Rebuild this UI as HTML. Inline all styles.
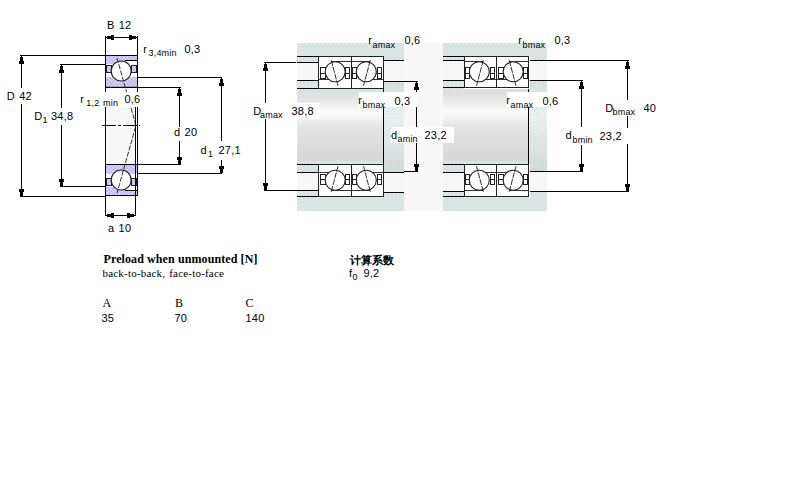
<!DOCTYPE html><html><head><meta charset="utf-8"><style>html,body{margin:0;padding:0;background:#fff;width:800px;height:500px;overflow:hidden}svg{display:block}text{fill:#000;letter-spacing:0.2px;word-spacing:1px}</style></head><body>
<svg width="800" height="500" viewBox="0 0 800 500" shape-rendering="crispEdges">
<defs>
<pattern id="gp" width="4" height="4" patternUnits="userSpaceOnUse">
<rect width="4" height="4" fill="#e4e4e4"/>
<rect x="1" y="0" width="1" height="1" fill="#d2d2d2"/>
<rect x="3" y="2" width="1" height="1" fill="#d2d2d2"/>
<rect x="0" y="1" width="1" height="1" fill="#f6d0d0"/>
<rect x="2" y="3" width="1" height="1" fill="#f6d0d0"/>
<rect x="0" y="2" width="1" height="1" fill="#c8f2f2"/>
<rect x="2" y="0" width="1" height="1" fill="#ececec"/>
</pattern>
<pattern id="bp" width="4" height="4" patternUnits="userSpaceOnUse">
<rect width="4" height="4" fill="#ccc6f6"/>
<rect x="1" y="1" width="1" height="1" fill="#9ab8f2"/>
<rect x="3" y="3" width="1" height="1" fill="#9ab8f2"/>
<rect x="3" y="1" width="1" height="1" fill="#c4f2f2"/>
<rect x="1" y="3" width="1" height="1" fill="#c4f2f2"/>
</pattern>
<pattern id="dp" width="4" height="4" patternUnits="userSpaceOnUse">
<rect x="1" y="0" width="1" height="1" fill="#d2d2d2" fill-opacity="0.6"/>
<rect x="3" y="2" width="1" height="1" fill="#d2d2d2" fill-opacity="0.6"/>
<rect x="0" y="1" width="1" height="1" fill="#f6d0d0" fill-opacity="0.8"/>
<rect x="2" y="3" width="1" height="1" fill="#f6d0d0" fill-opacity="0.8"/>
<rect x="0" y="2" width="1" height="1" fill="#c8f2f2" fill-opacity="0.8"/>
</pattern>
<linearGradient id="sg" x1="0" y1="0" x2="0" y2="1">
<stop offset="0" stop-color="#dcdcdc"/>
<stop offset="0.12" stop-color="#e2e2e2"/>
<stop offset="0.32" stop-color="#fafafa"/>
<stop offset="0.55" stop-color="#e2e2e2"/>
<stop offset="1" stop-color="#d6d6d6"/>
</linearGradient>
<linearGradient id="sg2" x1="0" y1="0" x2="0" y2="1">
<stop offset="0" stop-color="#dcdcdc"/>
<stop offset="0.4" stop-color="#f4f4f4"/>
<stop offset="1" stop-color="#d6d6d6"/>
</linearGradient>
</defs>
<rect x="106" y="107" width="29" height="57" fill="#f8f8f8"/>
<rect x="106" y="55" width="31" height="9" fill="url(#bp)"/>
<rect x="106" y="77" width="31" height="9" fill="url(#bp)"/>
<rect x="106" y="64" width="31" height="13" fill="#fff"/>
<rect x="126" y="60" width="11" height="4" fill="#fff"/>
<rect x="125" y="60" width="12" height="1" fill="#000"/>
<rect x="106" y="86" width="31" height="1" fill="#9aa0b4"/>
<rect x="107" y="66" width="4" height="6" fill="url(#bp)"/>
<rect x="106.5" y="65.5" width="5" height="7" fill="none" stroke="#222" stroke-width="1"/>
<rect x="132" y="66" width="4" height="6" fill="url(#bp)"/>
<rect x="131.5" y="65.5" width="5" height="7" fill="none" stroke="#222" stroke-width="1"/>
<circle cx="121.2" cy="71" r="10" fill="#fff" stroke="#222" stroke-width="1.2" shape-rendering="auto"/>
<rect x="105" y="55" width="33" height="1" fill="#000"/>
<rect x="105" y="87" width="33" height="1" fill="#000"/>
<rect x="106" y="187" width="31" height="9" fill="url(#bp)"/>
<rect x="106" y="165" width="31" height="9" fill="url(#bp)"/>
<rect x="106" y="174" width="31" height="13" fill="#fff"/>
<rect x="126" y="187" width="11" height="4" fill="#fff"/>
<rect x="125" y="190" width="12" height="1" fill="#000"/>
<rect x="106" y="164" width="31" height="1" fill="#9aa0b4"/>
<rect x="107" y="179" width="4" height="6" fill="url(#bp)"/>
<rect x="106.5" y="178.5" width="5" height="7" fill="none" stroke="#222" stroke-width="1"/>
<rect x="132" y="179" width="4" height="6" fill="url(#bp)"/>
<rect x="131.5" y="178.5" width="5" height="7" fill="none" stroke="#222" stroke-width="1"/>
<circle cx="121.2" cy="180" r="10" fill="#fff" stroke="#222" stroke-width="1.2" shape-rendering="auto"/>
<rect x="105" y="195" width="33" height="1" fill="#000"/>
<rect x="105" y="164" width="33" height="1" fill="#000"/>
<polyline points="117,58 136,125.5 117,193" fill="none" stroke="#333" stroke-width="1" stroke-dasharray="5,1.5" shape-rendering="auto"/>
<rect x="78" y="92" width="64" height="15" fill="#fff"/>
<rect x="105" y="36" width="1" height="56" fill="#000"/>
<rect x="105" y="107" width="1" height="109" fill="#000"/>
<rect x="137" y="36" width="1" height="56" fill="#000"/>
<rect x="137" y="107" width="1" height="89" fill="#000"/>
<rect x="135" y="107" width="1" height="109" fill="#000"/>
<line x1="102" y1="125.5" x2="140" y2="125.5" stroke="#000" stroke-width="1" stroke-dasharray="14,2,3,2"/>
<rect x="105" y="37" width="33" height="1" fill="#000"/>
<rect x="107" y="36" width="4" height="3" fill="#000"/>
<rect x="111" y="35" width="3" height="5" fill="#000"/>
<rect x="132" y="36" width="4" height="3" fill="#000"/>
<rect x="129" y="35" width="3" height="5" fill="#000"/>
<rect x="105" y="215" width="31" height="1" fill="#000"/>
<rect x="107" y="214" width="4" height="3" fill="#000"/>
<rect x="111" y="213" width="3" height="5" fill="#000"/>
<rect x="130" y="214" width="4" height="3" fill="#000"/>
<rect x="127" y="213" width="3" height="5" fill="#000"/>
<rect x="20" y="55" width="85" height="1" fill="#000"/>
<rect x="20" y="196" width="85" height="1" fill="#000"/>
<rect x="21" y="55" width="1" height="33" fill="#000"/>
<rect x="21" y="104" width="1" height="93" fill="#000"/>
<rect x="20" y="57" width="3" height="4" fill="#000"/>
<rect x="19" y="61" width="5" height="3" fill="#000"/>
<rect x="20" y="192" width="3" height="4" fill="#000"/>
<rect x="19" y="189" width="5" height="3" fill="#000"/>
<rect x="60" y="64" width="45" height="1" fill="#000"/>
<rect x="60" y="186" width="45" height="1" fill="#000"/>
<rect x="61" y="64" width="1" height="44" fill="#000"/>
<rect x="61" y="125" width="1" height="62" fill="#000"/>
<rect x="60" y="66" width="3" height="4" fill="#000"/>
<rect x="59" y="70" width="5" height="3" fill="#000"/>
<rect x="60" y="182" width="3" height="4" fill="#000"/>
<rect x="59" y="179" width="5" height="3" fill="#000"/>
<rect x="138" y="77" width="84" height="1" fill="#000"/>
<rect x="138" y="173" width="84" height="1" fill="#000"/>
<rect x="221" y="77" width="1" height="64" fill="#000"/>
<rect x="221" y="160" width="1" height="14" fill="#000"/>
<rect x="220" y="79" width="3" height="4" fill="#000"/>
<rect x="219" y="83" width="5" height="3" fill="#000"/>
<rect x="220" y="169" width="3" height="4" fill="#000"/>
<rect x="219" y="166" width="5" height="3" fill="#000"/>
<rect x="138" y="87" width="43" height="1" fill="#000"/>
<rect x="138" y="164" width="43" height="1" fill="#000"/>
<rect x="179" y="87" width="1" height="40" fill="#000"/>
<rect x="179" y="141" width="1" height="24" fill="#000"/>
<rect x="178" y="89" width="3" height="4" fill="#000"/>
<rect x="177" y="93" width="5" height="3" fill="#000"/>
<rect x="178" y="160" width="3" height="4" fill="#000"/>
<rect x="177" y="157" width="5" height="3" fill="#000"/>
<text x="107" y="29" font-size="11" font-weight="normal" font-family="Liberation Sans" text-anchor="start">B 12</text>
<text x="143.3" y="52.6" font-size="11" font-weight="normal" font-family="Liberation Sans" text-anchor="start">r</text>
<text x="148.5" y="55.5" font-size="9" font-weight="normal" font-family="Liberation Sans" text-anchor="start">3,4min</text>
<text x="184.5" y="53" font-size="11" font-weight="normal" font-family="Liberation Sans" text-anchor="start">0,3</text>
<text x="6.8" y="100" font-size="11" font-weight="normal" font-family="Liberation Sans" text-anchor="start">D 42</text>
<text x="34.2" y="120" font-size="11" font-weight="normal" font-family="Liberation Sans" text-anchor="start">D</text>
<text x="42.5" y="123" font-size="9" font-weight="normal" font-family="Liberation Sans" text-anchor="start">1</text>
<text x="51" y="120" font-size="11" font-weight="normal" font-family="Liberation Sans" text-anchor="start">34,8</text>
<text x="80.3" y="102.7" font-size="11" font-weight="normal" font-family="Liberation Sans" text-anchor="start">r</text>
<text x="86.3" y="105.7" font-size="9" font-weight="normal" font-family="Liberation Sans" text-anchor="start">1,2 min</text>
<text x="124.4" y="102.7" font-size="11" font-weight="normal" font-family="Liberation Sans" text-anchor="start">0,6</text>
<text x="174" y="136" font-size="11" font-weight="normal" font-family="Liberation Sans" text-anchor="start">d 20</text>
<text x="200.5" y="154" font-size="11" font-weight="normal" font-family="Liberation Sans" text-anchor="start">d</text>
<text x="208" y="157" font-size="9" font-weight="normal" font-family="Liberation Sans" text-anchor="start">1</text>
<text x="218.5" y="154" font-size="11" font-weight="normal" font-family="Liberation Sans" text-anchor="start">27,1</text>
<text x="108" y="231.8" font-size="11" font-weight="normal" font-family="Liberation Sans" text-anchor="start">a 10</text>
<rect x="297" y="43" width="107" height="13" fill="url(#gp)"/>
<rect x="383" y="56" width="21" height="4" fill="url(#gp)"/>
<rect x="297" y="56" width="21" height="6" fill="url(#gp)"/>
<rect x="297" y="62" width="21" height="18" fill="#f7f7f7"/>
<rect x="297" y="80" width="21" height="8" fill="url(#gp)"/>
<rect x="383" y="60" width="21" height="21" fill="#f7f7f7"/>
<rect x="297" y="196" width="107" height="15" fill="url(#gp)"/>
<rect x="383" y="192" width="21" height="4" fill="url(#gp)"/>
<rect x="297" y="190" width="21" height="6" fill="url(#gp)"/>
<rect x="297" y="172" width="21" height="18" fill="#f7f7f7"/>
<rect x="297" y="164" width="21" height="8" fill="url(#gp)"/>
<rect x="383" y="172" width="21" height="20" fill="#f7f7f7"/>
<rect x="297" y="88" width="86" height="76" fill="url(#sg)"/>
<rect x="297" y="88" width="86" height="3" fill="url(#gp)"/>
<rect x="297" y="161" width="86" height="3" fill="url(#gp)"/>
<rect x="383" y="81" width="21" height="91" fill="url(#sg2)"/>
<rect x="383" y="81" width="21" height="91" fill="url(#dp)"/>
<rect x="443" y="43" width="104" height="13" fill="url(#gp)"/>
<rect x="528" y="56" width="19" height="4" fill="url(#gp)"/>
<rect x="443" y="56" width="21" height="4" fill="url(#gp)"/>
<rect x="443" y="60" width="21" height="20" fill="#f7f7f7"/>
<rect x="443" y="80" width="21" height="7" fill="url(#gp)"/>
<rect x="528" y="60" width="19" height="20" fill="#f7f7f7"/>
<rect x="443" y="196" width="104" height="15" fill="url(#gp)"/>
<rect x="528" y="191" width="19" height="5" fill="url(#gp)"/>
<rect x="443" y="191" width="21" height="5" fill="url(#gp)"/>
<rect x="443" y="172" width="21" height="19" fill="#f7f7f7"/>
<rect x="443" y="164" width="21" height="8" fill="url(#gp)"/>
<rect x="528" y="171" width="19" height="20" fill="#f7f7f7"/>
<rect x="443" y="87" width="85" height="77" fill="url(#sg)"/>
<rect x="443" y="87" width="85" height="3" fill="url(#gp)"/>
<rect x="443" y="161" width="85" height="3" fill="url(#gp)"/>
<rect x="528" y="80" width="19" height="91" fill="url(#sg2)"/>
<rect x="528" y="80" width="19" height="91" fill="url(#dp)"/>
<rect x="404" y="43" width="39" height="168" fill="#f8f8f8"/>
<rect x="297" y="56" width="21" height="1" fill="#000"/>
<rect x="297" y="62" width="21" height="1" fill="#000"/>
<rect x="297" y="80" width="21" height="1" fill="#000"/>
<rect x="297" y="88" width="21" height="1" fill="#000"/>
<rect x="383" y="60" width="21" height="1" fill="#000"/>
<rect x="383" y="81" width="21" height="1" fill="#000"/>
<rect x="297" y="164" width="21" height="1" fill="#000"/>
<rect x="297" y="172" width="21" height="1" fill="#000"/>
<rect x="297" y="190" width="21" height="1" fill="#000"/>
<rect x="297" y="196" width="21" height="1" fill="#000"/>
<rect x="383" y="172" width="21" height="1" fill="#000"/>
<rect x="383" y="192" width="21" height="1" fill="#000"/>
<rect x="383" y="88" width="1" height="77" fill="#000"/>
<rect x="443" y="56" width="21" height="1" fill="#000"/>
<rect x="443" y="60" width="21" height="1" fill="#000"/>
<rect x="443" y="80" width="21" height="1" fill="#000"/>
<rect x="443" y="87" width="21" height="1" fill="#000"/>
<rect x="528" y="60" width="19" height="1" fill="#000"/>
<rect x="528" y="80" width="19" height="1" fill="#000"/>
<rect x="443" y="164" width="21" height="1" fill="#000"/>
<rect x="443" y="172" width="21" height="1" fill="#000"/>
<rect x="443" y="191" width="21" height="1" fill="#000"/>
<rect x="443" y="196" width="21" height="1" fill="#000"/>
<rect x="528" y="171" width="19" height="1" fill="#000"/>
<rect x="528" y="191" width="19" height="1" fill="#000"/>
<rect x="528" y="87" width="1" height="78" fill="#000"/>
<rect x="318.5" y="56" width="33" height="33" fill="#fff"/>
<rect x="331.5" y="61" width="19.0" height="1" fill="#333"/>
<rect x="318.5" y="79" width="11.0" height="1" fill="#333"/>
<rect x="320.5" y="67.9" width="4.5" height="10.5" fill="#fff" stroke="#222" stroke-width="1"/>
<rect x="320" y="73" width="5" height="1" fill="#222"/>
<rect x="345.3" y="67.9" width="4.5" height="10.5" fill="#fff" stroke="#222" stroke-width="1"/>
<rect x="345" y="73" width="5" height="1" fill="#222"/>
<circle cx="335.2" cy="71.8" r="10" fill="#fff" stroke="#222" stroke-width="1.1" shape-rendering="auto"/>
<line x1="331.2" y1="60.2" x2="338.0" y2="85.8" stroke="#1a1a1a" stroke-width="0.9" stroke-dasharray="6,1" shape-rendering="auto"/>
<rect x="318.5" y="164" width="33" height="33" fill="#fff"/>
<rect x="331.5" y="190" width="19.0" height="1" fill="#333"/>
<rect x="318.5" y="172" width="11.0" height="1" fill="#333"/>
<rect x="320.5" y="174.1" width="4.5" height="10.5" fill="#fff" stroke="#222" stroke-width="1"/>
<rect x="320" y="179" width="5" height="1" fill="#222"/>
<rect x="345.3" y="174.1" width="4.5" height="10.5" fill="#fff" stroke="#222" stroke-width="1"/>
<rect x="345" y="179" width="5" height="1" fill="#222"/>
<circle cx="335.2" cy="180.2" r="10" fill="#fff" stroke="#222" stroke-width="1.1" shape-rendering="auto"/>
<line x1="331.2" y1="191.8" x2="338.0" y2="166.2" stroke="#1a1a1a" stroke-width="0.9" stroke-dasharray="6,1" shape-rendering="auto"/>
<rect x="351" y="56" width="33" height="33" fill="#fff"/>
<rect x="351" y="61" width="19" height="1" fill="#333"/>
<rect x="372" y="79" width="11" height="1" fill="#333"/>
<rect x="377.0" y="67.9" width="4.5" height="10.5" fill="#fff" stroke="#222" stroke-width="1"/>
<rect x="376" y="73" width="6" height="1" fill="#222"/>
<rect x="352.2" y="67.9" width="4.5" height="10.5" fill="#fff" stroke="#222" stroke-width="1"/>
<rect x="352" y="73" width="5" height="1" fill="#222"/>
<circle cx="366.3" cy="71.8" r="10" fill="#fff" stroke="#222" stroke-width="1.1" shape-rendering="auto"/>
<line x1="370.3" y1="60.2" x2="363.5" y2="85.8" stroke="#1a1a1a" stroke-width="0.9" stroke-dasharray="6,1" shape-rendering="auto"/>
<rect x="351" y="164" width="33" height="33" fill="#fff"/>
<rect x="351" y="190" width="19" height="1" fill="#333"/>
<rect x="372" y="172" width="11" height="1" fill="#333"/>
<rect x="377.0" y="174.1" width="4.5" height="10.5" fill="#fff" stroke="#222" stroke-width="1"/>
<rect x="376" y="179" width="6" height="1" fill="#222"/>
<rect x="352.2" y="174.1" width="4.5" height="10.5" fill="#fff" stroke="#222" stroke-width="1"/>
<rect x="352" y="179" width="5" height="1" fill="#222"/>
<circle cx="366.3" cy="180.2" r="10" fill="#fff" stroke="#222" stroke-width="1.1" shape-rendering="auto"/>
<line x1="370.3" y1="191.8" x2="363.5" y2="166.2" stroke="#1a1a1a" stroke-width="0.9" stroke-dasharray="6,1" shape-rendering="auto"/>
<rect x="464" y="56" width="33" height="33" fill="#fff"/>
<rect x="464" y="61" width="19" height="1" fill="#333"/>
<rect x="485" y="79" width="11" height="1" fill="#333"/>
<rect x="490.0" y="67.9" width="4.5" height="10.5" fill="#fff" stroke="#222" stroke-width="1"/>
<rect x="490" y="73" width="4" height="1" fill="#222"/>
<rect x="465.2" y="67.9" width="4.5" height="10.5" fill="#fff" stroke="#222" stroke-width="1"/>
<rect x="465" y="73" width="5" height="1" fill="#222"/>
<circle cx="479.3" cy="71.8" r="10" fill="#fff" stroke="#222" stroke-width="1.1" shape-rendering="auto"/>
<line x1="483.3" y1="60.2" x2="476.5" y2="85.8" stroke="#1a1a1a" stroke-width="0.9" stroke-dasharray="6,1" shape-rendering="auto"/>
<rect x="464" y="164" width="33" height="33" fill="#fff"/>
<rect x="464" y="190" width="19" height="1" fill="#333"/>
<rect x="485" y="172" width="11" height="1" fill="#333"/>
<rect x="490.0" y="174.1" width="4.5" height="10.5" fill="#fff" stroke="#222" stroke-width="1"/>
<rect x="490" y="179" width="4" height="1" fill="#222"/>
<rect x="465.2" y="174.1" width="4.5" height="10.5" fill="#fff" stroke="#222" stroke-width="1"/>
<rect x="465" y="179" width="5" height="1" fill="#222"/>
<circle cx="479.3" cy="180.2" r="10" fill="#fff" stroke="#222" stroke-width="1.1" shape-rendering="auto"/>
<line x1="483.3" y1="191.8" x2="476.5" y2="166.2" stroke="#1a1a1a" stroke-width="0.9" stroke-dasharray="6,1" shape-rendering="auto"/>
<rect x="496.5" y="56" width="33" height="33" fill="#fff"/>
<rect x="509.5" y="61" width="19.0" height="1" fill="#333"/>
<rect x="496.5" y="79" width="11.0" height="1" fill="#333"/>
<rect x="498.5" y="67.9" width="4.5" height="10.5" fill="#fff" stroke="#222" stroke-width="1"/>
<rect x="498" y="73" width="5" height="1" fill="#222"/>
<rect x="523.3" y="67.9" width="4.5" height="10.5" fill="#fff" stroke="#222" stroke-width="1"/>
<rect x="523" y="73" width="5" height="1" fill="#222"/>
<circle cx="513.2" cy="71.8" r="10" fill="#fff" stroke="#222" stroke-width="1.1" shape-rendering="auto"/>
<line x1="509.2" y1="60.2" x2="516.0" y2="85.8" stroke="#1a1a1a" stroke-width="0.9" stroke-dasharray="6,1" shape-rendering="auto"/>
<rect x="496.5" y="164" width="33" height="33" fill="#fff"/>
<rect x="509.5" y="190" width="19.0" height="1" fill="#333"/>
<rect x="496.5" y="172" width="11.0" height="1" fill="#333"/>
<rect x="498.5" y="174.1" width="4.5" height="10.5" fill="#fff" stroke="#222" stroke-width="1"/>
<rect x="498" y="179" width="5" height="1" fill="#222"/>
<rect x="523.3" y="174.1" width="4.5" height="10.5" fill="#fff" stroke="#222" stroke-width="1"/>
<rect x="523" y="179" width="5" height="1" fill="#222"/>
<circle cx="513.2" cy="180.2" r="10" fill="#fff" stroke="#222" stroke-width="1.1" shape-rendering="auto"/>
<line x1="509.2" y1="191.8" x2="516.0" y2="166.2" stroke="#1a1a1a" stroke-width="0.9" stroke-dasharray="6,1" shape-rendering="auto"/>
<rect x="318" y="56" width="1" height="33" fill="#222"/>
<rect x="351" y="56" width="1" height="33" fill="#222"/>
<rect x="383" y="56" width="1" height="33" fill="#222"/>
<rect x="318" y="56" width="66" height="1" fill="#222"/>
<rect x="318" y="88" width="66" height="1" fill="#222"/>
<rect x="318" y="164" width="1" height="33" fill="#222"/>
<rect x="351" y="164" width="1" height="33" fill="#222"/>
<rect x="383" y="164" width="1" height="33" fill="#222"/>
<rect x="318" y="164" width="66" height="1" fill="#222"/>
<rect x="318" y="196" width="66" height="1" fill="#222"/>
<rect x="464" y="56" width="1" height="32" fill="#222"/>
<rect x="496" y="56" width="1" height="32" fill="#222"/>
<rect x="528" y="56" width="1" height="32" fill="#222"/>
<rect x="464" y="56" width="65" height="1" fill="#222"/>
<rect x="464" y="87" width="65" height="1" fill="#222"/>
<rect x="464" y="164" width="1" height="33" fill="#222"/>
<rect x="496" y="164" width="1" height="33" fill="#222"/>
<rect x="528" y="164" width="1" height="33" fill="#222"/>
<rect x="464" y="164" width="65" height="1" fill="#222"/>
<rect x="464" y="196" width="65" height="1" fill="#222"/>
<rect x="264" y="62" width="32" height="1" fill="#000"/>
<rect x="264" y="190" width="33" height="1" fill="#000"/>
<rect x="265" y="62" width="1" height="41" fill="#000"/>
<rect x="265" y="119" width="1" height="72" fill="#000"/>
<rect x="264" y="64" width="3" height="4" fill="#000"/>
<rect x="263" y="68" width="5" height="3" fill="#000"/>
<rect x="264" y="186" width="3" height="4" fill="#000"/>
<rect x="263" y="183" width="5" height="3" fill="#000"/>
<rect x="404" y="81" width="14" height="1" fill="#000"/>
<rect x="404" y="171" width="14" height="1" fill="#000"/>
<rect x="416" y="81" width="1" height="46" fill="#000"/>
<rect x="416" y="143" width="1" height="29" fill="#000"/>
<rect x="415" y="83" width="3" height="4" fill="#000"/>
<rect x="414" y="87" width="5" height="3" fill="#000"/>
<rect x="415" y="167" width="3" height="4" fill="#000"/>
<rect x="414" y="164" width="5" height="3" fill="#000"/>
<rect x="547" y="80" width="36" height="1" fill="#000"/>
<rect x="547" y="171" width="36" height="1" fill="#000"/>
<rect x="581" y="80" width="1" height="47" fill="#000"/>
<rect x="581" y="145" width="1" height="27" fill="#000"/>
<rect x="580" y="82" width="3" height="4" fill="#000"/>
<rect x="579" y="86" width="5" height="3" fill="#000"/>
<rect x="580" y="167" width="3" height="4" fill="#000"/>
<rect x="579" y="164" width="5" height="3" fill="#000"/>
<rect x="547" y="60" width="82" height="1" fill="#000"/>
<rect x="547" y="191" width="82" height="1" fill="#000"/>
<rect x="627" y="60" width="1" height="40" fill="#000"/>
<rect x="627" y="116" width="1" height="12" fill="#000"/>
<rect x="627" y="144" width="1" height="48" fill="#000"/>
<rect x="626" y="62" width="3" height="4" fill="#000"/>
<rect x="625" y="66" width="5" height="3" fill="#000"/>
<rect x="626" y="187" width="3" height="4" fill="#000"/>
<rect x="625" y="184" width="5" height="3" fill="#000"/>
<rect x="290" y="103" width="30" height="16" fill="#fff"/>
<rect x="359" y="92" width="58" height="15" fill="#fff"/>
<rect x="391" y="127" width="63" height="16" fill="#fff"/>
<rect x="507" y="92" width="40" height="15" fill="#fff"/>
<text x="253.2" y="114.5" font-size="11" font-weight="normal" font-family="Liberation Sans" text-anchor="start">D</text>
<text x="260" y="117.8" font-size="9" font-weight="normal" font-family="Liberation Sans" text-anchor="start">amax</text>
<text x="291.5" y="114.5" font-size="11" font-weight="normal" font-family="Liberation Sans" text-anchor="start">38,8</text>
<text x="368.3" y="44" font-size="11" font-weight="normal" font-family="Liberation Sans" text-anchor="start">r</text>
<text x="372.5" y="47.5" font-size="9" font-weight="normal" font-family="Liberation Sans" text-anchor="start">amax</text>
<text x="404.5" y="44" font-size="11" font-weight="normal" font-family="Liberation Sans" text-anchor="start">0,6</text>
<text x="358.3" y="104" font-size="11" font-weight="normal" font-family="Liberation Sans" text-anchor="start">r</text>
<text x="362.5" y="108" font-size="9" font-weight="normal" font-family="Liberation Sans" text-anchor="start">bmax</text>
<text x="394.5" y="104.5" font-size="11" font-weight="normal" font-family="Liberation Sans" text-anchor="start">0,3</text>
<text x="391" y="139" font-size="11" font-weight="normal" font-family="Liberation Sans" text-anchor="start">d</text>
<text x="397.5" y="142" font-size="9" font-weight="normal" font-family="Liberation Sans" text-anchor="start">amin</text>
<text x="424.5" y="139" font-size="11" font-weight="normal" font-family="Liberation Sans" text-anchor="start">23,2</text>
<text x="518.3" y="44" font-size="11" font-weight="normal" font-family="Liberation Sans" text-anchor="start">r</text>
<text x="522.5" y="47.5" font-size="9" font-weight="normal" font-family="Liberation Sans" text-anchor="start">bmax</text>
<text x="554.5" y="44" font-size="11" font-weight="normal" font-family="Liberation Sans" text-anchor="start">0,3</text>
<text x="506.3" y="104" font-size="11" font-weight="normal" font-family="Liberation Sans" text-anchor="start">r</text>
<text x="510.5" y="108" font-size="9" font-weight="normal" font-family="Liberation Sans" text-anchor="start">amax</text>
<text x="542.5" y="104.5" font-size="11" font-weight="normal" font-family="Liberation Sans" text-anchor="start">0,6</text>
<text x="565.5" y="139.4" font-size="11" font-weight="normal" font-family="Liberation Sans" text-anchor="start">d</text>
<text x="572.5" y="142.5" font-size="9" font-weight="normal" font-family="Liberation Sans" text-anchor="start">bmin</text>
<text x="599.5" y="140" font-size="11" font-weight="normal" font-family="Liberation Sans" text-anchor="start">23,2</text>
<text x="605.2" y="111.6" font-size="11" font-weight="normal" font-family="Liberation Sans" text-anchor="start">D</text>
<text x="612.5" y="115" font-size="9" font-weight="normal" font-family="Liberation Sans" text-anchor="start">bmax</text>
<text x="643.5" y="111.6" font-size="11" font-weight="normal" font-family="Liberation Sans" text-anchor="start">40</text>
<text x="103.5" y="263" font-size="12" font-weight="bold" font-family="Liberation Serif" text-anchor="start" style="letter-spacing:0.1px;word-spacing:0">Preload when unmounted [N]</text>
<text x="102.5" y="277" font-size="11" font-weight="normal" font-family="Liberation Serif" text-anchor="start">back-to-back, face-to-face</text>
<text x="102.5" y="307" font-size="12" font-weight="normal" font-family="Liberation Serif" text-anchor="start">A</text>
<text x="175" y="307" font-size="12" font-weight="normal" font-family="Liberation Serif" text-anchor="start">B</text>
<text x="245.5" y="307" font-size="12" font-weight="normal" font-family="Liberation Serif" text-anchor="start">C</text>
<text x="101.5" y="322" font-size="11" font-weight="normal" font-family="Liberation Sans" text-anchor="start">35</text>
<text x="174.5" y="322" font-size="11" font-weight="normal" font-family="Liberation Sans" text-anchor="start">70</text>
<text x="245.5" y="322" font-size="11" font-weight="normal" font-family="Liberation Sans" text-anchor="start">140</text>
<text x="349.5" y="263.5" font-size="11.3" font-weight="bold" font-family="Liberation Sans" text-anchor="start" style="letter-spacing:0;word-spacing:0">计算系数</text>
<text x="349" y="277" font-size="11" font-weight="normal" font-family="Liberation Sans" text-anchor="start">f</text>
<text x="352.5" y="279.5" font-size="9" font-weight="normal" font-family="Liberation Sans" text-anchor="start">0</text>
<text x="363.5" y="277" font-size="11" font-weight="normal" font-family="Liberation Sans" text-anchor="start">9,2</text>
</svg></body></html>
